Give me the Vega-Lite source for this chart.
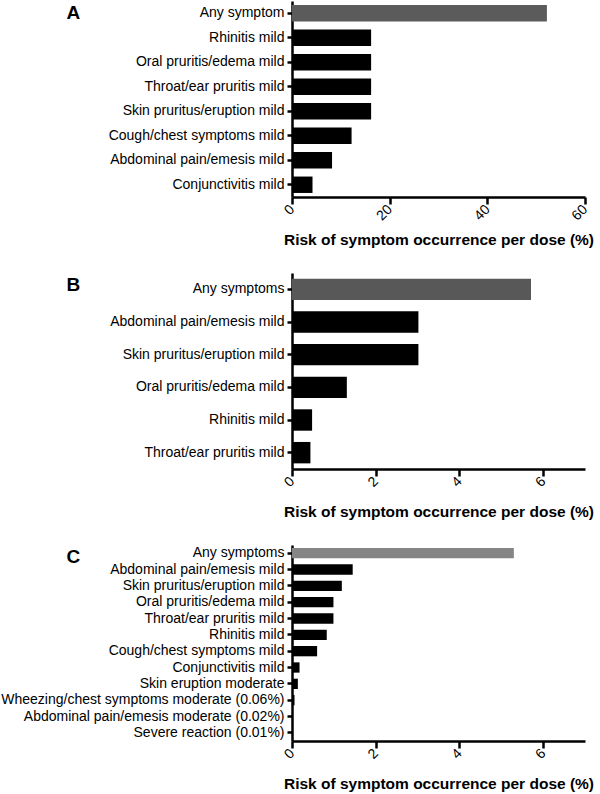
{
  "$schema": "https://vega.github.io/schema/vega-lite/v6.json",
  "padding": {"left": 0, "top": 1, "right": 5, "bottom": 0},
  "spacing": 25,
  "resolve": {"scale": {"color": "independent", "x": "independent", "y": "independent"}},
  "config": {
    "view": {"stroke": null},
    "font": "Liberation Sans",
    "axis": {
      "grid": false,
      "domainColor": "#000000",
      "domainWidth": 2.5,
      "tickColor": "#000000",
      "tickWidth": 2.5,
      "labelColor": "#000000",
      "titleColor": "#000000",
      "labelFont": "Liberation Sans",
      "titleFont": "Liberation Sans"
    },
    "axisY": {
      "tickSize": 5,
      "labelPadding": 3,
      "labelFontSize": 14,
      "labelLimit": 400,
      "titleAngle": 0,
      "titleX": -226,
      "titleY": 2,
      "titleAlign": "left",
      "titleBaseline": "top",
      "titleFontSize": 19,
      "titleFontWeight": "bold"
    },
    "axisX": {
      "tickSize": 7,
      "labelPadding": 3,
      "labelFontSize": 14,
      "labelAngle": -45,
      "labelAlign": "right",
      "labelBaseline": "middle",
      "titleFontSize": 15.5,
      "titleFontWeight": "bold",
      "titleY": 47,
      "titleBaseline": "alphabetic"
    }
  },
  "vconcat": [
    {
      "width": 293,
      "height": 196,
      "data": {"values": [
        {"symptom": "Any symptom", "risk": 52.2, "kind": "total"},
        {"symptom": "Rhinitis mild", "risk": 16.2, "kind": "item"},
        {"symptom": "Oral pruritis/edema mild", "risk": 16.2, "kind": "item"},
        {"symptom": "Throat/ear pruritis mild", "risk": 16.2, "kind": "item"},
        {"symptom": "Skin pruritus/eruption mild", "risk": 16.2, "kind": "item"},
        {"symptom": "Cough/chest symptoms mild", "risk": 12.2, "kind": "item"},
        {"symptom": "Abdominal pain/emesis mild", "risk": 8.2, "kind": "item"},
        {"symptom": "Conjunctivitis mild", "risk": 4.2, "kind": "item"}
      ]},
      "mark": {"type": "bar"},
      "encoding": {
        "y": {"field": "symptom", "type": "nominal", "sort": null,
              "scale": {"paddingInner": 0.33, "paddingOuter": 0.165},
              "axis": {"title": "A"}},
        "x": {"field": "risk", "type": "quantitative",
              "scale": {"domain": [0, 60], "nice": false},
              "axis": {"values": [0, 20, 40, 60], "title": "Risk of symptom occurrence per dose (%)"}},
        "color": {"field": "kind", "type": "nominal",
                  "scale": {"domain": ["total", "item"], "range": ["#5b5b5b", "#000000"]},
                  "legend": null}
      }
    },
    {
      "width": 293,
      "height": 196,
      "data": {"values": [
        {"symptom": "Any symptoms", "risk": 5.71, "kind": "total"},
        {"symptom": "Abdominal pain/emesis mild", "risk": 3.02, "kind": "item"},
        {"symptom": "Skin pruritus/eruption mild", "risk": 3.02, "kind": "item"},
        {"symptom": "Oral pruritis/edema mild", "risk": 1.31, "kind": "item"},
        {"symptom": "Rhinitis mild", "risk": 0.48, "kind": "item"},
        {"symptom": "Throat/ear pruritis mild", "risk": 0.44, "kind": "item"}
      ]},
      "mark": {"type": "bar"},
      "encoding": {
        "y": {"field": "symptom", "type": "nominal", "sort": null,
              "scale": {"paddingInner": 0.345, "paddingOuter": 0.1725},
              "axis": {"title": "B"}},
        "x": {"field": "risk", "type": "quantitative",
              "scale": {"domain": [0, 7], "nice": false},
              "axis": {"values": [0, 2, 4, 6], "title": "Risk of symptom occurrence per dose (%)"}},
        "color": {"field": "kind", "type": "nominal",
                  "scale": {"domain": ["total", "item"], "range": ["#585858", "#000000"]},
                  "legend": null}
      }
    },
    {
      "width": 293,
      "height": 196,
      "data": {"values": [
        {"symptom": "Any symptoms", "risk": 5.3, "kind": "total"},
        {"symptom": "Abdominal pain/emesis mild", "risk": 1.45, "kind": "item"},
        {"symptom": "Skin pruritus/eruption mild", "risk": 1.19, "kind": "item"},
        {"symptom": "Oral pruritis/edema mild", "risk": 0.99, "kind": "item"},
        {"symptom": "Throat/ear pruritis mild", "risk": 0.99, "kind": "item"},
        {"symptom": "Rhinitis mild", "risk": 0.83, "kind": "item"},
        {"symptom": "Cough/chest symptoms mild", "risk": 0.6, "kind": "item"},
        {"symptom": "Conjunctivitis mild", "risk": 0.18, "kind": "item"},
        {"symptom": "Skin eruption moderate", "risk": 0.14, "kind": "item"},
        {"symptom": "Wheezing/chest symptoms moderate (0.06%)", "risk": 0.06, "kind": "item"},
        {"symptom": "Abdominal pain/emesis moderate (0.02%)", "risk": 0.02, "kind": "item"},
        {"symptom": "Severe reaction (0.01%)", "risk": 0.01, "kind": "item"}
      ]},
      "mark": {"type": "bar"},
      "encoding": {
        "y": {"field": "symptom", "type": "nominal", "sort": null,
              "scale": {"paddingInner": 0.37, "paddingOuter": 0.185},
              "axis": {"title": "C"}},
        "x": {"field": "risk", "type": "quantitative",
              "scale": {"domain": [0, 7], "nice": false},
              "axis": {"values": [0, 2, 4, 6], "title": "Risk of symptom occurrence per dose (%)"}},
        "color": {"field": "kind", "type": "nominal",
                  "scale": {"domain": ["total", "item"], "range": ["#858585", "#000000"]},
                  "legend": null}
      }
    }
  ]
}
